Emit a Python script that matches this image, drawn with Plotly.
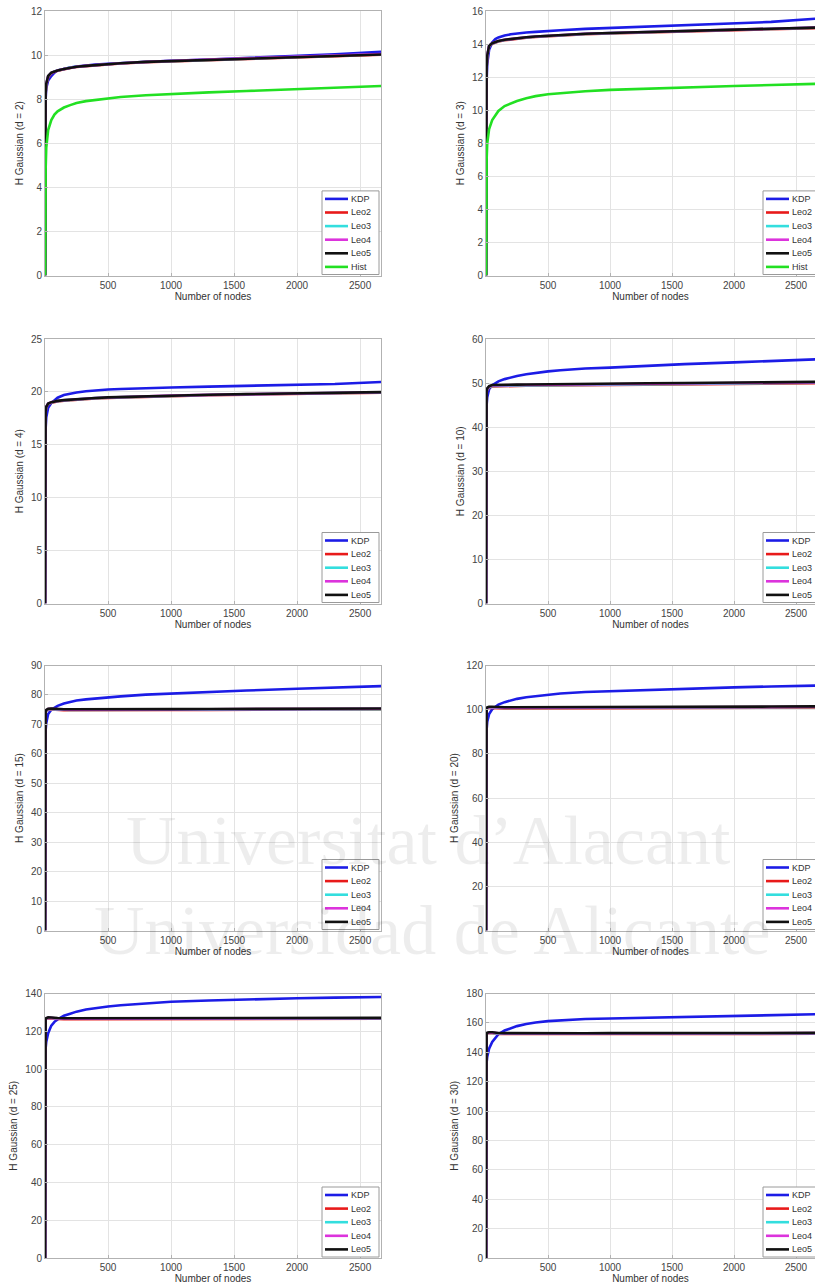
import plotly.graph_objects as go

W, H = 815, 1285

# ---------------------------------------------------------------- data
nodes = [1, 2, 5, 10, 25, 50, 75, 100, 150, 200, 250, 325, 400, 500, 600, 800,
         1000, 1300, 1600, 2000, 2300, 2680]

series_names = ["KDP", "Leo2", "Leo3", "Leo4", "Leo5", "Hist"]
series_colors = ["#1c1ce6", "#e81a1a", "#33dede", "#dc33dc", "#111111", "#22e022"]

dims = [2, 3, 4, 10, 15, 20, 25, 30]
y_max = [12, 16, 25, 60, 90, 120, 140, 180]
y_step = [2, 2, 5, 10, 10, 20, 20, 20]
x_ticks = [500, 1000, 1500, 2000, 2500]

# d = 2
kdp_d2 = [0, 6.5, 8.0, 8.5, 8.85, 9.05, 9.2, 9.3, 9.38, 9.43, 9.48, 9.53, 9.57, 9.61, 9.64, 9.7, 9.74, 9.8, 9.86, 9.95, 10.03, 10.15]
leo2_d2 = [0, 7.5, 8.2, 8.65, 9.0, 9.17, 9.25, 9.29, 9.36, 9.42, 9.46, 9.5, 9.54, 9.58, 9.62, 9.68, 9.72, 9.78, 9.83, 9.9, 9.95, 10.02]
leo3_d2 = [0, 7.55, 8.25, 8.68, 9.03, 9.18, 9.26, 9.3, 9.37, 9.43, 9.47, 9.51, 9.55, 9.59, 9.63, 9.69, 9.73, 9.79, 9.84, 9.91, 9.96, 10.04]
leo4_d2 = [0, 7.6, 8.28, 8.7, 9.04, 9.19, 9.26, 9.3, 9.37, 9.43, 9.47, 9.51, 9.55, 9.59, 9.63, 9.69, 9.74, 9.8, 9.85, 9.92, 9.97, 10.05]
leo5_d2 = [0, 7.6, 8.3, 8.7, 9.05, 9.2, 9.26, 9.3, 9.37, 9.43, 9.47, 9.51, 9.55, 9.59, 9.63, 9.69, 9.73, 9.79, 9.84, 9.91, 9.96, 10.03]
hist_d2 = [0, 3.0, 4.8, 5.8, 6.6, 7.05, 7.3, 7.45, 7.62, 7.73, 7.83, 7.91, 7.97, 8.05, 8.1, 8.18, 8.24, 8.31, 8.37, 8.45, 8.52, 8.6]

# d = 3
kdp_d3 = [0, 9.5, 11.8, 12.8, 13.65, 14.1, 14.3, 14.4, 14.52, 14.59, 14.64, 14.7, 14.74, 14.8, 14.84, 14.92, 14.98, 15.06, 15.13, 15.24, 15.34, 15.55]
leo2_d3 = [0, 11.4, 12.5, 13.25, 13.86, 14.02, 14.1, 14.15, 14.23, 14.28, 14.32, 14.38, 14.43, 14.48, 14.52, 14.59, 14.64, 14.71, 14.77, 14.85, 14.9, 14.97]
leo3_d3 = [0, 11.45, 12.55, 13.28, 13.88, 14.04, 14.12, 14.17, 14.25, 14.3, 14.34, 14.4, 14.45, 14.5, 14.54, 14.61, 14.66, 14.73, 14.79, 14.87, 14.92, 14.99]
leo4_d3 = [0, 11.5, 12.58, 13.3, 13.9, 14.05, 14.13, 14.18, 14.26, 14.31, 14.35, 14.41, 14.46, 14.51, 14.55, 14.62, 14.67, 14.74, 14.8, 14.88, 14.93, 15.01]
leo5_d3 = [0, 11.5, 12.6, 13.3, 13.9, 14.05, 14.13, 14.18, 14.26, 14.31, 14.35, 14.41, 14.46, 14.51, 14.55, 14.62, 14.67, 14.74, 14.8, 14.88, 14.93, 15.0]
hist_d3 = [0, 4.5, 7.0, 8.0, 8.85, 9.4, 9.72, 9.95, 10.25, 10.42, 10.55, 10.72, 10.85, 10.96, 11.03, 11.15, 11.23, 11.31, 11.38, 11.46, 11.52, 11.6]

# d = 4
kdp_d4 = [0, 14.2, 16.5, 17.6, 18.5, 18.95, 19.25, 19.45, 19.7, 19.85, 19.95, 20.06, 20.15, 20.22, 20.27, 20.36, 20.42, 20.5, 20.57, 20.66, 20.75, 20.95]
leo2_d4 = [0, 17.4, 18.1, 18.55, 18.85, 18.98, 19.05, 19.1, 19.17, 19.22, 19.27, 19.33, 19.38, 19.43, 19.47, 19.55, 19.61, 19.68, 19.74, 19.82, 19.87, 19.93]
leo3_d4 = [0, 17.45, 18.15, 18.58, 18.88, 19.0, 19.08, 19.13, 19.2, 19.25, 19.3, 19.36, 19.41, 19.46, 19.5, 19.58, 19.64, 19.71, 19.77, 19.85, 19.9, 19.96]
leo4_d4 = [0, 17.5, 18.18, 18.6, 18.9, 19.02, 19.09, 19.14, 19.21, 19.26, 19.31, 19.37, 19.42, 19.47, 19.51, 19.59, 19.65, 19.72, 19.78, 19.86, 19.91, 19.97]
leo5_d4 = [0, 17.5, 18.2, 18.6, 18.9, 19.03, 19.1, 19.15, 19.22, 19.27, 19.32, 19.38, 19.43, 19.48, 19.52, 19.6, 19.66, 19.73, 19.79, 19.87, 19.92, 19.98]

# d = 10
kdp_d10 = [0, 41.5, 45.0, 46.8, 48.6, 49.5, 50.0, 50.4, 50.9, 51.3, 51.6, 52.0, 52.3, 52.65, 52.9, 53.3, 53.5, 53.95, 54.3, 54.7, 55.0, 55.4]
leo2_d10 = [0, 47.0, 48.0, 48.5, 49.0, 49.25, 49.28, 49.3, 49.32, 49.34, 49.36, 49.38, 49.4, 49.43, 49.45, 49.52, 49.58, 49.66, 49.73, 49.8, 49.88, 49.97]
leo3_d10 = [0, 47.1, 48.1, 48.6, 49.1, 49.35, 49.38, 49.4, 49.42, 49.44, 49.46, 49.48, 49.5, 49.53, 49.55, 49.62, 49.68, 49.76, 49.83, 49.9, 49.98, 50.07]
leo4_d10 = [0, 47.2, 48.2, 48.7, 49.2, 49.45, 49.48, 49.5, 49.52, 49.54, 49.56, 49.58, 49.6, 49.63, 49.65, 49.72, 49.78, 49.86, 49.93, 50.0, 50.08, 50.17]
leo5_d10 = [0, 47.3, 48.3, 48.8, 49.3, 49.55, 49.58, 49.6, 49.62, 49.64, 49.66, 49.68, 49.69, 49.72, 49.75, 49.82, 49.88, 49.96, 50.03, 50.1, 50.18, 50.27]

# d = 15
kdp_d15 = [0, 64.0, 68.0, 70.5, 73.5, 75.0, 75.8, 76.3, 77.1, 77.7, 78.1, 78.5, 78.8, 79.2, 79.5, 80.1, 80.5, 81.05, 81.5, 82.1, 82.5, 83.0]
leo2_d15 = [0, 73.7, 74.2, 74.6, 75.0, 75.1, 75.0, 74.9, 74.85, 74.83, 74.82, 74.82, 74.83, 74.84, 74.86, 74.88, 74.9, 74.93, 74.96, 75.0, 75.04, 75.1]
leo3_d15 = [0, 73.8, 74.3, 74.7, 75.1, 75.2, 75.1, 75.0, 74.95, 74.93, 74.92, 74.92, 74.93, 74.94, 74.96, 74.98, 75.0, 75.03, 75.06, 75.1, 75.14, 75.2]
leo4_d15 = [0, 73.9, 74.4, 74.8, 75.2, 75.3, 75.2, 75.1, 75.05, 75.03, 75.02, 75.02, 75.03, 75.04, 75.06, 75.08, 75.1, 75.13, 75.16, 75.2, 75.24, 75.3]
leo5_d15 = [0, 74.0, 74.5, 74.9, 75.3, 75.4, 75.3, 75.2, 75.15, 75.13, 75.12, 75.12, 75.13, 75.14, 75.16, 75.18, 75.2, 75.23, 75.26, 75.3, 75.34, 75.4]

# d = 20
kdp_d20 = [0, 85.0, 91.0, 94.5, 98.0, 100.2, 101.4, 102.3, 103.4, 104.2, 104.9, 105.6, 106.1, 106.8, 107.3, 108.0, 108.4, 109.0, 109.5, 110.1, 110.5, 110.9]
leo2_d20 = [0, 99.5, 100.1, 100.5, 100.8, 100.8, 100.7, 100.6, 100.6, 100.6, 100.6, 100.6, 100.6, 100.61, 100.62, 100.65, 100.7, 100.72, 100.76, 100.85, 100.9, 101.0]
leo3_d20 = [0, 99.7, 100.3, 100.7, 101.0, 101.0, 100.9, 100.8, 100.8, 100.8, 100.8, 100.8, 100.8, 100.81, 100.82, 100.85, 100.9, 100.92, 100.96, 101.05, 101.1, 101.2]
leo4_d20 = [0, 99.8, 100.4, 100.8, 101.1, 101.1, 101.0, 100.9, 100.9, 100.9, 100.9, 100.9, 100.9, 100.91, 100.92, 100.95, 101.0, 101.02, 101.06, 101.15, 101.2, 101.3]
leo5_d20 = [0, 100.0, 100.6, 101.0, 101.3, 101.3, 101.2, 101.1, 101.1, 101.1, 101.1, 101.1, 101.1, 101.11, 101.12, 101.15, 101.2, 101.22, 101.26, 101.35, 101.4, 101.5]

# d = 25
kdp_d25 = [0, 105.0, 111.0, 114.5, 119.0, 123.0, 125.0, 126.3, 128.2, 129.3, 130.4, 131.5, 132.3, 133.1, 133.8, 134.9, 135.6, 136.3, 136.9, 137.5, 137.8, 138.2]
leo2_d25 = [0, 125.5, 126.1, 126.5, 126.85, 126.8, 126.6, 126.5, 126.4, 126.4, 126.4, 126.4, 126.4, 126.4, 126.4, 126.42, 126.45, 126.5, 126.5, 126.55, 126.6, 126.6]
leo3_d25 = [0, 125.7, 126.3, 126.7, 127.05, 127.0, 126.8, 126.7, 126.6, 126.6, 126.6, 126.6, 126.6, 126.6, 126.6, 126.62, 126.65, 126.7, 126.7, 126.75, 126.8, 126.8]
leo4_d25 = [0, 125.8, 126.4, 126.8, 127.15, 127.1, 126.9, 126.8, 126.7, 126.7, 126.7, 126.7, 126.7, 126.7, 126.7, 126.72, 126.75, 126.8, 126.8, 126.85, 126.9, 126.9]
leo5_d25 = [0, 126.0, 126.6, 127.0, 127.35, 127.3, 127.1, 127.0, 126.9, 126.9, 126.9, 126.9, 126.9, 126.9, 126.9, 126.92, 126.95, 127.0, 127.0, 127.05, 127.1, 127.1]

# d = 30
kdp_d30 = [0, 127.0, 133.0, 137.0, 142.5, 147.0, 150.0, 152.3, 154.8, 156.5, 157.8, 159.2, 160.3, 161.2, 161.8, 162.6, 163.0, 163.6, 164.1, 164.8, 165.3, 165.9]
leo2_d30 = [0, 151.4, 152.2, 152.7, 153.05, 153.0, 152.7, 152.5, 152.4, 152.37, 152.35, 152.35, 152.35, 152.35, 152.35, 152.37, 152.4, 152.43, 152.47, 152.5, 152.55, 152.6]
leo3_d30 = [0, 151.6, 152.4, 152.9, 153.25, 153.2, 152.9, 152.7, 152.6, 152.57, 152.55, 152.55, 152.55, 152.55, 152.55, 152.57, 152.6, 152.63, 152.67, 152.7, 152.75, 152.8]
leo4_d30 = [0, 151.8, 152.6, 153.1, 153.45, 153.4, 153.1, 152.9, 152.8, 152.77, 152.75, 152.75, 152.75, 152.75, 152.75, 152.77, 152.8, 152.83, 152.87, 152.9, 152.95, 153.0]
leo5_d30 = [0, 152.0, 152.8, 153.3, 153.65, 153.6, 153.3, 153.1, 153.0, 152.97, 152.95, 152.95, 152.95, 152.95, 152.95, 152.97, 153.0, 153.03, 153.07, 153.1, 153.15, 153.2]

panel_series = [
    [kdp_d2, leo2_d2, leo3_d2, leo4_d2, leo5_d2, hist_d2],
    [kdp_d3, leo2_d3, leo3_d3, leo4_d3, leo5_d3, hist_d3],
    [kdp_d4, leo2_d4, leo3_d4, leo4_d4, leo5_d4],
    [kdp_d10, leo2_d10, leo3_d10, leo4_d10, leo5_d10],
    [kdp_d15, leo2_d15, leo3_d15, leo4_d15, leo5_d15],
    [kdp_d20, leo2_d20, leo3_d20, leo4_d20, leo5_d20],
    [kdp_d25, leo2_d25, leo3_d25, leo4_d25, leo5_d25],
    [kdp_d30, leo2_d30, leo3_d30, leo4_d30, leo5_d30],
]

# ---------------------------------------------------------------- layout geometry (pixels)
col_px = [(45, 381), (486, 815)]
col_xmax = [2666, 2653]
row_px = [(11, 275.5), (339, 603.5), (665.5, 930.5), (993.5, 1258)]

FONT = "Liberation Sans, Arial, Helvetica, sans-serif"
AX_COLOR = "#b2b2b2"
GRID_COLOR = "#e3e3e3"


def px_x(p):
    return p / W


def px_y(p):
    return 1 - p / H


fig = go.Figure()
layout = dict(
    width=W, height=H,
    margin=dict(l=0, r=0, t=0, b=0, pad=0, autoexpand=False),
    paper_bgcolor="white", plot_bgcolor="rgba(0,0,0,0)",
    showlegend=False,
    annotations=[], shapes=[],
)

for i, d in enumerate(dims):
    row, col = divmod(i, 2)
    sfx = "" if i == 0 else str(i + 1)
    xa, ya = "x" + sfx, "y" + sfx
    x0p, x1p = col_px[col]
    y0p, y1p = row_px[row]

    layout["xaxis" + sfx] = dict(
        domain=[px_x(x0p), px_x(x1p)], anchor=ya, range=[0, col_xmax[col]],
        tickvals=x_ticks, ticks="inside", ticklen=3, tickcolor=AX_COLOR,
        showline=True, linecolor=AX_COLOR, linewidth=1, mirror=True,
        showgrid=True, gridcolor=GRID_COLOR, gridwidth=1, zeroline=False,
        tickfont=dict(family=FONT, size=10, color="#444"),
        title=dict(text="Number of nodes", standoff=1,
                   font=dict(family=FONT, size=10, color="#333")),
    )
    layout["yaxis" + sfx] = dict(
        domain=[px_y(y1p), px_y(y0p)], anchor=xa, range=[0, y_max[i]],
        tickvals=list(range(0, y_max[i] + 1, y_step[i])),
        ticks="inside", ticklen=3, tickcolor=AX_COLOR,
        showline=True, linecolor=AX_COLOR, linewidth=1, mirror=(col == 0),
        showgrid=True, gridcolor=GRID_COLOR, gridwidth=1, zeroline=False,
        tickfont=dict(family=FONT, size=10, color="#444"),
        title=dict(text=f"H Gaussian (d = {d})", standoff=5,
                   font=dict(family=FONT, size=10, color="#333")),
    )

    series = panel_series[i]
    for name, color, vals in zip(series_names, series_colors, series):
        fig.add_trace(go.Scatter(
            x=nodes, y=vals, mode="lines", name=name,
            line=dict(color=color, width=2.6),
            xaxis=xa, yaxis=ya,
        ))

    # boxed legend in the lower-right corner of each panel
    n_items = len(series)
    item_h = 13.6
    box_l = x0p + 277
    box_r = box_l + 57
    box_b = y1p - 1
    box_t = box_b - n_items * item_h - 2
    layout["shapes"].append(dict(
        type="rect", xref="paper", yref="paper",
        x0=px_x(box_l), x1=px_x(box_r), y0=px_y(box_b), y1=px_y(box_t),
        line=dict(color="#9a9a9a", width=1), fillcolor="white", layer="above",
    ))
    for k in range(n_items):
        cy = box_t + 8 + k * item_h
        layout["shapes"].append(dict(
            type="line", xref="paper", yref="paper",
            x0=px_x(box_l + 3), x1=px_x(box_l + 26), y0=px_y(cy), y1=px_y(cy),
            line=dict(color=series_colors[k], width=2.6), layer="above",
        ))
        layout["annotations"].append(dict(
            text=series_names[k], xref="paper", yref="paper",
            x=px_x(box_l + 27), y=px_y(cy), xanchor="left", yanchor="middle",
            showarrow=False, font=dict(family=FONT, size=9, color="#333"),
        ))

# faint institutional watermark across the page
for txt, cx, cy, size in [("Universitat d’Alacant", 428, 840, 70),
                          ("Universidad de Alicante", 432, 930, 70)]:
    layout["annotations"].append(dict(
        text=txt, xref="paper", yref="paper", x=px_x(cx), y=px_y(cy),
        xanchor="center", yanchor="middle", showarrow=False,
        font=dict(family="Liberation Serif, Times New Roman, serif", size=size,
                  color="rgba(0,0,0,0.07)"),
    ))

fig.update_layout(**layout)
fig.write_html("out.html")
